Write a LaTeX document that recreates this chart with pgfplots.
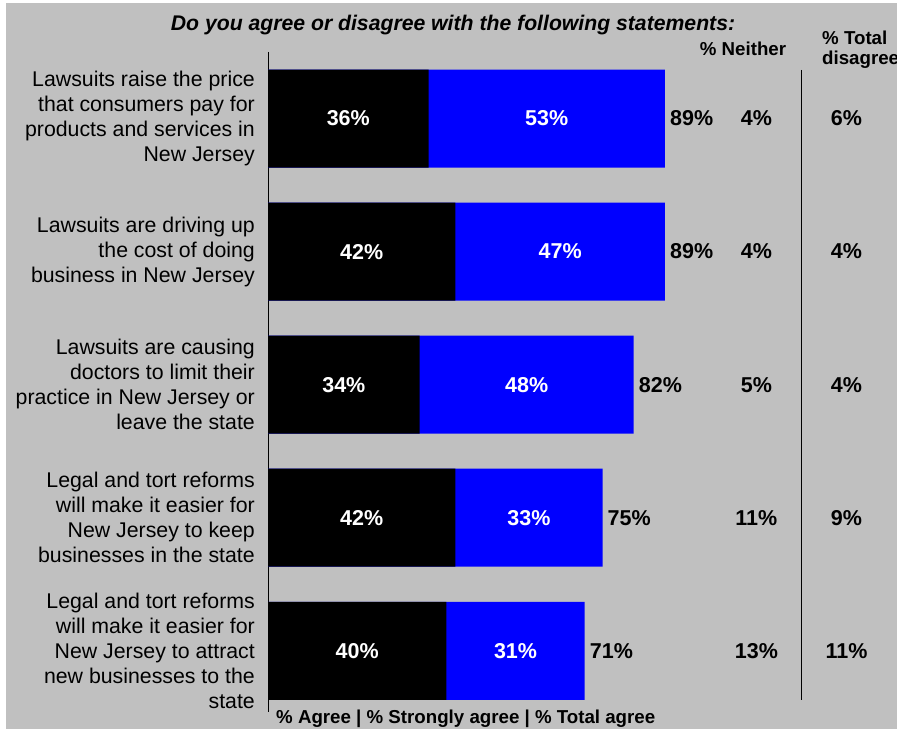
\documentclass[border=0pt]{standalone}
\usepackage{fontspec}
\setmainfont{Liberation Sans}
\usepackage{pgfplots}
\pgfplotsset{compat=1.18}

\definecolor{bggray}{RGB}{192,192,192}
\definecolor{barblue}{RGB}{0,0,255}

\newcommand{\lab}{\fontsize{21.3bp}{25bp}\selectfont}
\newcommand{\val}{\fontsize{21.5bp}{25bp}\selectfont\bfseries}
\newcommand{\hdr}{\fontsize{18.7bp}{20bp}\selectfont\bfseries}

\begin{document}
\begin{tikzpicture}[x=1bp,y=1bp]
\useasboundingbox (0,0) rectangle (897,731);
\fill[white] (0,0) rectangle (897,731);
\fill[bggray] (6,2) rectangle (897,728);

\begin{axis}[
    at={(268bp,19bp)}, anchor=south west,
    scale only axis,
    width=624.4bp, height=660bp,
    xmin=0, xmax=140,
    ymin=-0.5, ymax=4.46,
    y dir=reverse,
    clip=false,
    axis x line=none,
    axis y line=left,
    axis line style={-, black, line width=0.8pt},
    ytick={0,1,2,3,4},
    major tick length=0pt,
    yticklabel style={align=right, font=\lab, inner sep=0pt, xshift=-13bp},
    yticklabels={
        {Lawsuits raise the price\\that consumers pay for\\products and services in\\New Jersey},
        {Lawsuits are driving up\\the cost of doing\\business in New Jersey},
        {Lawsuits are causing\\doctors to limit their\\practice in New Jersey or\\leave the state},
        {Legal and tort reforms\\will make it easier for\\New Jersey to keep\\businesses in the state},
        {Legal and tort reforms\\will make it easier for\\New Jersey to attract\\new businesses to the\\state}
    },
]
% total agree (blue, drawn first)
\addplot[xbar, bar width=98bp, fill=barblue, draw=none] coordinates {
    (89,0) (89,1) (82,2) (75,3) (71,4)
};
% agree (black, on top)
\addplot[xbar, bar width=98bp, fill=black, draw=none] coordinates {
    (36,0) (42,1) (34,2) (42,3) (40,4)
};
% labels inside black segments
\addplot[draw=none, mark=none, nodes near coords, point meta=explicit symbolic,
    every node near coord/.append style={anchor=center, font=\val, text=white}]
    coordinates {(18,0)[36\%] (21,1)[42\%] (17,2)[34\%] (21,3)[42\%] (20,4)[40\%]};
% labels inside blue segments
\addplot[draw=none, mark=none, nodes near coords, point meta=explicit symbolic,
    every node near coord/.append style={anchor=center, font=\val, text=white}]
    coordinates {(62.5,0)[53\%] (65.5,1)[47\%] (58,2)[48\%] (58.5,3)[33\%] (55.5,4)[31\%]};
% total agree
\addplot[draw=none, mark=none, nodes near coords, point meta=explicit symbolic,
    every node near coord/.append style={anchor=west, inner sep=0pt, xshift=5bp, font=\val, text=black}]
    coordinates {(89,0)[89\%] (89,1)[89\%] (82,2)[82\%] (75,3)[75\%] (71,4)[71\%]};
% neither
\addplot[draw=none, mark=none, nodes near coords, point meta=explicit symbolic,
    every node near coord/.append style={anchor=center, font=\val, text=black}]
    coordinates {(109.5,0)[4\%] (109.5,1)[4\%] (109.5,2)[5\%] (109.5,3)[11\%] (109.5,4)[13\%]};
% total disagree
\addplot[draw=none, mark=none, nodes near coords, point meta=explicit symbolic,
    every node near coord/.append style={anchor=center, font=\val, text=black}]
    coordinates {(129.7,0)[6\%] (129.7,1)[4\%] (129.7,2)[4\%] (129.7,3)[9\%] (129.7,4)[11\%]};
% separator
\addplot[black, line width=0.8pt, mark=none] coordinates {(119.7,-0.365) (119.7,4.372)};
\end{axis}

\node[font=\fontsize{21.2bp}{25bp}\selectfont\bfseries\itshape] at (453,706)
    {Do you agree or disagree with the following statements:};
\node[font=\hdr] at (743,682) {\% Neither};
\node[font=\hdr, anchor=west, align=left, inner sep=0pt] at (822,681) {\% Total\\disagree};
\node[font=\hdr, anchor=west, inner sep=0pt] at (276,12) {\% Agree | \% Strongly agree | \% Total agree};
\end{tikzpicture}
\end{document}
